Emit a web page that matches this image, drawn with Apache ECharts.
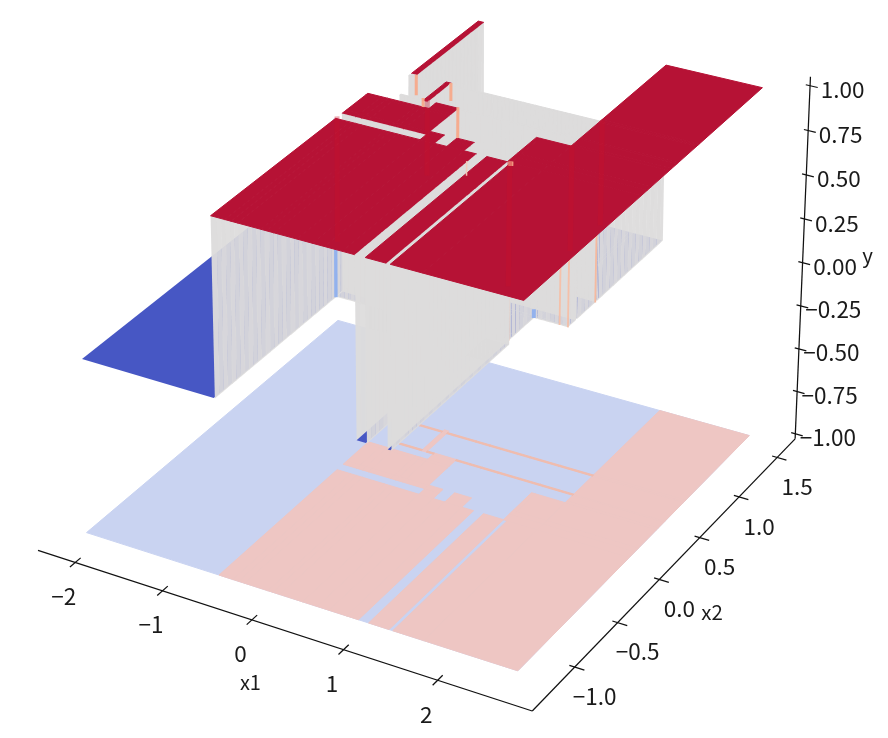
<!DOCTYPE html>
<html><head><meta charset="utf-8"><style>html,body{margin:0;background:#fff}#c{width:888px;height:738px}</style></head>
<body><div id="c"></div>
<script src="https://cdn.jsdelivr.net/npm/echarts@6/dist/echarts.min.js"></script>
<script>
// ---- data ----
const x1Edges=[-2.15,-0.65,-0.495,-0.43,-0.36,-0.105,-0.05,0.03,0.28,0.44,0.57,0.76,0.89,1.0,1.22,1.26,1.59,2.6];
const x2Edges=[-1.23,0.085,0.155,0.20,0.42,0.445,0.512,0.526,0.753,0.767,0.785,1.59];
// predicted class per cell: 0 = low (y=0), 1 = high (y=1), 2 = one-sample ridge (y=1, no flat top)
const classRows=[
 [0,1,1,1,1,1,1,1,1,1,1,1,0,1,0,1,1],
 [0,0,0,0,0,0,0,0,1,0,1,0,0,0,1,1,1],
 [0,1,1,1,1,1,1,1,1,0,1,0,0,0,1,1,1],
 [0,1,1,1,1,1,1,1,0,0,0,0,0,0,1,1,1],
 [0,1,1,1,1,1,1,1,0,0,0,0,0,0,0,0,1],
 [0,0,0,0,0,0,0,1,0,0,0,0,0,0,0,0,1],
 [0,0,0,0,2,1,2,1,2,2,2,2,2,2,2,2,1],
 [0,0,0,0,0,1,0,0,0,0,0,0,0,0,0,0,1],
 [0,0,2,2,2,1,2,2,2,2,2,2,2,2,2,2,1],
 [0,0,0,0,0,1,0,0,0,0,0,0,0,0,0,0,1],
 [0,0,1,0,0,0,0,0,0,0,0,0,0,0,0,0,1]
];
const x1Ticks=[-2,-1,0,1,2];
const x2Ticks=[-1,-0.5,0,0.5,1,1.5];
const yTicks=[-1,-0.75,-0.5,-0.25,0,0.25,0.5,0.75,1];
// single-sample transition columns: x1, x2, y from, y to, colour, width
const seams=[
 [-0.65,0.08,0,1,'#8fb0ee',3.4],
 [1.22,0.12,0,1,'#f5c4ae',2],
 [1.22,0.418,0,0.05,'#8fb0ee',4],
 [1.50,0.418,0,1,'#f5bfa6',1.8],
 [1.59,0.418,0,1,'#f5bfa6',1.8],
 [1.592,0.745,0,1,'#f5b79c',1.8]
];
// the same kind of column where it stays in front of the walls behind it
const frontSeams=[
 [-0.44,0.785,0.885,1,'#f7a98a',3],
 [-0.131,0.545,0.95,1,'#f7a98a',3],
 [-0.054,0.786,0.90,1,'#f7a98a',3],
 [0.26,0.537,0.83,1,'#f7a98a',3],
 [0.79,0.08,0.87,0.95,'#f4c9b8',1.5],
 [1.245,0.098,0.975,1,'#f7a98a',5]
];
// faint columns that show through the top surface: x1, x2, lowest y
const streaks=[[1.24,0.09,0.32],[1.59,0.43,0.42],[1.6,0.78,0.42],[-0.07,0.53,0.58],[-0.66,0.11,0.3]];

// ---- camera: projective map of (x1,x2,y) to the canvas ----
const CAM=[[85.11086,99.61395,-5.935865,386.752],[21.06354,-66.52098,-180.7808,319.2534],[-0.012288,0.02901337,-0.01670082,1]];
const AX={x1min:-2.435,x1max:2.98,x2min:-1.48,x2max:1.74,ymin:-1.03,ymax:1.05};
const XB=[x1Edges[0],x1Edges[x1Edges.length-1]],YB=[x2Edges[0],x2Edges[x2Edges.length-1]];
function cam(a,b,c){const P=CAM,w=P[2][0]*a+P[2][1]*b+P[2][2]*c+1;return[(P[0][0]*a+P[0][1]*b+P[0][2]*c+P[0][3])/w,(P[1][0]*a+P[1][1]*b+P[1][2]*c+P[1][3])/w];}
function surf(a,b,c){ // surface points: tiny view correction inside the domain
 const aa=(a<=XB[0]||a>=XB[1])?a:a-0.02*c, bb=(b<=YB[0]||b>=YB[1])?b:b+0.015*c;return cam(aa,bb,c);}

const C={gray:'#dddcdc',red:'#b61235',blue:'#4757c4',fb:'#c9d3f1',fp:'#eec6c3',fl:'#f0bcae'};
const items=[];
function poly(pts,fill,op,stroke){items.push({k:'p',pts:pts.map(p=>surf(p[0],p[1],p[2])),fill,op,stroke});}
const NI=x1Edges.length-1,NJ=x2Edges.length-1;
// floor
poly([[XB[0],YB[0],-1],[XB[1],YB[0],-1],[XB[1],YB[1],-1],[XB[0],YB[1],-1]],C.fb,1,C.fb);
[1,2].forEach(cl=>classRows.forEach((r,j)=>r.forEach((c,i)=>{if(c!==cl)return;
 const a=x1Edges[i],b=x1Edges[i+1],e=x2Edges[j],f=x2Edges[j+1];
 poly([[a,e,-1],[b,e,-1],[b,f,-1],[a,f,-1]],cl===1?C.fp:C.fl,1,cl===1?C.fp:C.fl);})));
// surface, far cells first (x1 ascending, x2 descending)
const zOf=c=>c?1:0, STEP=0.045, LAP=0.004, INSET=0.012;
function wallX(x,e,f){let k=0;for(let u=e;u<f-1e-6;u+=STEP,k++){const v=Math.min(u+STEP+LAP,f);poly([[x,u,0],[x,v,0],[x,v,1],[x,u,1]],C.gray,k%2?0.93:0.96);}}
function wallY(y,a,b){let k=0;for(let u=a;u<b-1e-6;u+=STEP,k++){const v=Math.min(u+STEP+LAP,b);poly([[u,y,0],[v,y,0],[v,y,1],[u,y,1]],C.gray,k%2?0.93:0.96);}}
// the far-left low column is one flat piece
poly([[x1Edges[0],YB[0],0],[x1Edges[1]-INSET,YB[0],0],[x1Edges[1]-INSET,YB[1],0],[x1Edges[0],YB[1],0]],C.blue,1,null);
for(let i=0;i<NI;i++)for(let j=NJ-1;j>=0;j--){
 const c=classRows[j][i],a=x1Edges[i],b=x1Edges[i+1],e=x2Edges[j],f=x2Edges[j+1];
 if(i>0&&zOf(classRows[j][i-1])!==zOf(c))wallX(a,e,f);
 if(j<NJ-1&&zOf(classRows[j+1][i])!==zOf(c))wallY(f,a,b);
 seams.forEach(s=>{if(s[0]>=a&&s[0]<b&&s[1]>=e&&s[1]<f)items.push({k:'l',pts:[surf(s[0],s[1],s[2]),surf(s[0],s[1],s[3])],color:s[4],w:s[5],op:0.95});});
 if(i===0)continue;
 if(c===0){const bb=(i<NI-1&&classRows[j][i+1])?b-INSET:b, ee=(j>0&&classRows[j-1][i])?e+INSET:e;
  poly([[a,ee,0],[bb,ee,0],[bb,f,0],[a,f,0]],C.blue,1,null);}
 else{const col=c===1?C.red:C.gray;poly([[a,e,1],[b,e,1],[b,f,1],[a,f,1]],col,1,col);}
}
frontSeams.forEach(s=>items.push({k:'l',pts:[surf(s[0],s[1],s[2]),surf(s[0],s[1],s[3])],color:s[4],w:s[5],op:0.95}));
streaks.forEach(s=>items.push({k:'l',pts:[surf(s[0],s[1],1),surf(s[0],s[1],s[2])],color:'#c9102c',w:5,op:0.35}));
// axes
function line(a,b,w){items.push({k:'l',pts:[cam(...a),cam(...b)],color:'#111',w:w||1.25,op:1});}
line([AX.x1min,AX.x2min,AX.ymin],[AX.x1max,AX.x2min,AX.ymin]);
line([AX.x1max,AX.x2min,AX.ymin],[AX.x1max,AX.x2max,AX.ymin]);
line([AX.x1max,AX.x2max,AX.ymin],[AX.x1max,AX.x2max,AX.ymax]);
const fam='"Noto Sans CJK JP","Noto Sans",sans-serif';
const fmtN=(v,d)=>(v<0?'\u2212':'')+Math.abs(v).toFixed(d);
function label(t,p,dx,dy,fs){items.push({k:'t',t,x:p[0]+dx,y:p[1]+dy,fs:fs||22.5});}
x1Ticks.forEach(v=>{line([v,AX.x2min-0.055,AX.ymin],[v,AX.x2min+0.055,AX.ymin]);label(fmtN(v,0),cam(v,AX.x2min,AX.ymin),-11.5,34);});
x2Ticks.forEach(v=>{line([AX.x1max-0.055,v,AX.ymin],[AX.x1max+0.10,v,AX.ymin]);label(fmtN(v,1),cam(AX.x1max,v,AX.ymin),20,29.3);});
yTicks.forEach(v=>{line([AX.x1max-0.045,AX.x2max,v],[AX.x1max+0.08,AX.x2max,v]);label(fmtN(v,2),cam(AX.x1max,AX.x2max,v),32.5,4);});
label('x1',cam(0,AX.x2min,AX.ymin),-1.5,63,20);
label('x2',cam(AX.x1max,0,AX.ymin),52.7,33,20.5);
label('y',cam(AX.x1max,AX.x2max,0),65,-7,20.5);

const chart=echarts.init(document.getElementById('c'),null,{renderer:'canvas'});
chart.setOption({animation:false,
 grid:{left:0,top:0,width:888,height:738},
 xAxis:{type:'value',min:0,max:888,show:false},
 yAxis:{type:'value',min:0,max:738,inverse:true,show:false},
 series:[{type:'custom',coordinateSystem:'cartesian2d',clip:false,progressive:0,silent:true,
  encode:{x:0,y:1},
  data:items.map((d,i)=>[(d.pts?d.pts[0][0]:d.x),(d.pts?d.pts[0][1]:d.y),i]),
  renderItem(params,api){const d=items[api.value(2)];
   if(d.k==='t')return{type:'text',style:{text:d.t,x:api.coord([d.x,d.y])[0],y:api.coord([d.x,d.y])[1],align:'center',verticalAlign:'middle',fontSize:d.fs,fontFamily:fam,fill:'#1a1a1a'}};
   const pts=d.pts.map(p=>api.coord(p));
   if(d.k==='l')return{type:'line',shape:{x1:pts[0][0],y1:pts[0][1],x2:pts[1][0],y2:pts[1][1]},style:{stroke:d.color,lineWidth:d.w,opacity:d.op}};
   return{type:'polygon',shape:{points:pts},style:{fill:d.fill,opacity:d.op,stroke:d.stroke||null,lineWidth:d.stroke?1:0}};
  }}]
});
</script></body></html>
